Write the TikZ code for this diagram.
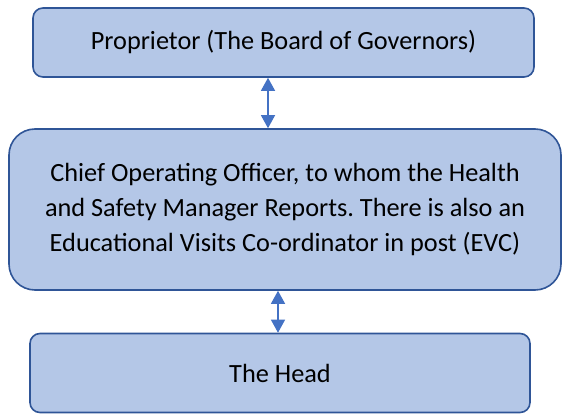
\documentclass[tikz,border=0pt]{standalone}
\usepackage{fontspec}
\setmainfont{Carlito}
\usetikzlibrary{arrows.meta}
\definecolor{boxfill}{HTML}{B4C7E7}
\definecolor{boxline}{HTML}{2F5597}
\definecolor{arrowcol}{HTML}{4472C4}
\frenchspacing
\tikzset{
  orgbox/.style={draw=boxline, fill=boxfill, line width=1.6pt, rectangle, align=center,
    inner sep=0pt, font=\fontsize{26.3}{35}\selectfont},
  link/.style={draw=arrowcol, line width=1.3pt,
    {Triangle[width=14pt,length=13pt]}-{Triangle[width=14pt,length=13pt]}}
}
\begin{document}
\begin{tikzpicture}[x=1pt,y=-1pt]
\useasboundingbox (0,0) rectangle (565,415);
\node[orgbox, rounded corners=10pt, minimum width=501pt, minimum height=69pt] (top) at (283.5,42.5) {Proprietor (The Board of Governors)};
\node[orgbox, rounded corners=26pt, minimum width=552pt, minimum height=161pt] (mid) at (285,209.5) {Chief Operating Officer, to whom the Health\\and Safety Manager Reports. There is also an\\Educational Visits Co-ordinator in post (EVC)};
\node[orgbox, rounded corners=10pt, minimum width=500pt, minimum height=79pt] (head) at (280,373) {The Head};
\draw[link] (top.south -| 268,0) -- (mid.north -| 268,0);
\draw[link] (mid.south -| 278,0) -- (head.north -| 278,0);
\end{tikzpicture}
\end{document}
